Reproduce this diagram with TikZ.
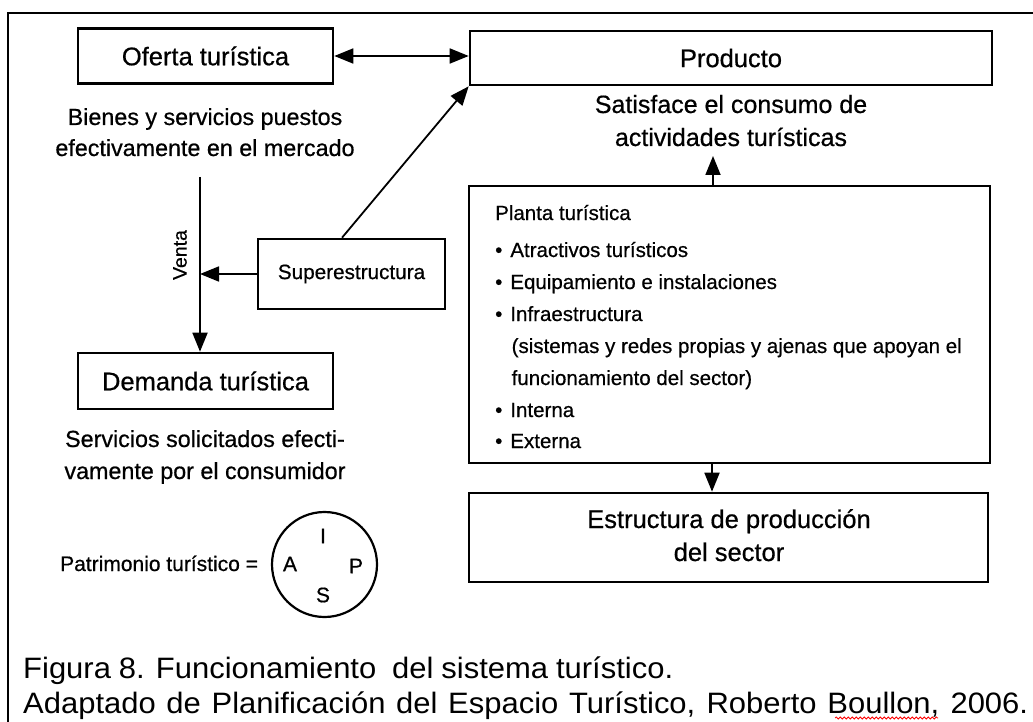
\documentclass[tikz,border=0pt]{standalone}
\usepackage{fontspec}
\setmainfont{Liberation Sans}[FakeBold=0.6]
\newfontfamily\capfont{Liberation Sans}[FakeStretch=1.05]
\usetikzlibrary{arrows.meta,decorations.pathmorphing,calc}
\begin{document}
\begin{tikzpicture}[x=1pt,y=-1pt,
  box/.style={draw, line width=2.6pt, inner sep=0pt},
  conn/.style={line width=1.8pt},
  arr/.style={conn,-{Triangle[length=19pt,width=15pt]}},
  darr/.style={conn,{Triangle[length=19pt,width=15pt]}-{Triangle[length=19pt,width=15pt]}},
  ttl/.style={font=\fontsize{25.5}{30}\selectfont},
  desc/.style={anchor=base, inner sep=0pt, font=\fontsize{23.3}{28}\selectfont},
  descr/.style={anchor=base, inner sep=0pt, font=\fontsize{25}{30}\selectfont},
  item/.style={anchor=base west, inner sep=0pt, font=\fontsize{20.5}{24}\selectfont},
  small/.style={inner sep=0pt, font=\fontsize{21}{25}\selectfont},
  captxt/.style={anchor=base west, inner sep=0pt, font=\capfont\fontsize{29.5}{34}\selectfont},
]
\useasboundingbox (0,0) rectangle (1033,722);
\fill[white] (0,0) rectangle (1033,722);
% frame
\coordinate (fbl) at (8,722);
\coordinate (ftl) at (8,13);
\coordinate (ftr) at (1033,13);
\draw[line width=2pt] (fbl) -- (ftl) -- (ftr);

% boxes
\node[box, ttl, minimum width=255pt, minimum height=55pt] (oferta) at (205.5,56) {Oferta turística};
\node[box, ttl, minimum width=522pt, minimum height=54pt] (producto) at (731,58) {Producto};
\node[box, minimum width=521pt, minimum height=277pt] (planta) at (729.5,324.5) {};
\node[box, minimum width=519pt, minimum height=89pt] (estructura) at (728.5,537.5) {};
\node[box, minimum width=187pt, minimum height=70pt, font=\fontsize{20.7}{25}\selectfont] (supe) at (351.5,274) {Superestructura};
\node[box, ttl, minimum width=255pt, minimum height=56pt] (demanda) at (205.5,381) {Demanda turística};

% descriptive texts
\node[desc] (bien1) at (205,125) {Bienes y servicios puestos};
\node[desc] (bien2) at (205,156) {efectivamente en el mercado};
\node[descr] (sat1) at (731,113) {Satisface el consumo de};
\node[descr] (sat2) at (731,146) {actividades turísticas};
\node[desc] (serv1) at (205,447) {Servicios solicitados efecti-};
\node[desc] (serv2) at (205,479) {vamente por el consumidor};
\node[anchor=base, inner sep=0pt, font=\fontsize{25.5}{30}\selectfont] (est1) at (729,528) {Estructura de producción};
\node[anchor=base, inner sep=0pt, font=\fontsize{25.5}{30}\selectfont] (est2) at (729,561) {del sector};

% planta items
\node[item] (pt) at (495,220) {Planta turística};
\node[item] (i1) at (495,257) {•\hspace{8pt}Atractivos turísticos};
\node[item] (i2) at (495,289) {•\hspace{8pt}Equipamiento e instalaciones};
\node[item] (i3) at (495,321) {•\hspace{8pt}Infraestructura};
\node[item] (i3a) at (511.5,353) {(sistemas y redes propias y ajenas que apoyan el};
\node[item] (i3b) at (511.5,385) {funcionamiento del sector)};
\node[item] (i4) at (495,417) {•\hspace{8pt}Interna};
\node[item] (i5) at (495,448) {•\hspace{8pt}Externa};

% connectors
\draw[darr] (oferta.east) -- (oferta.east -| producto.west);
\coordinate (supetop) at ($(supe.north west)!0.45!(supe.north east)$);
\draw[arr] (supetop) -- (producto.south west);
\coordinate (vtop) at (200,177);
\draw[arr] (vtop) -- (vtop |- demanda.north);
\draw[arr] (supe.west) -- (vtop |- supe.west);
\node[small, rotate=90, font=\fontsize{19.5}{23}\selectfont] (venta) at (180,255) {Venta};
\coordinate (uptip) at (713,156);
\draw[arr] (planta.north -| uptip) -- (uptip);
\coordinate (dnx) at (712,0);
\draw[arr] (planta.south -| dnx) -- (estructura.north -| dnx);

% patrimonio
\node[anchor=base west, inner sep=0pt, font=\fontsize{21}{25}\selectfont] (patr) at (60,571) {Patrimonio turístico =};
\node[draw, circle, line width=2.2pt, minimum size=105pt, inner sep=0pt] (circ) at (324.5,564.5) {};
\node[small] (cI) at (323,536) {I};
\node[small] (cA) at (290,564) {A};
\node[small] (cP) at (356,566) {P};
\node[small] (cS) at (323,595) {S};

% caption
\node[captxt] (cap1) at (23,678) {\makebox[650pt][s]{Figura 8. Funcionamiento\ \ del sistema turístico.}};
\node[captxt] (cap2) at (23,713) {\makebox[1005pt][s]{Adaptado de Planificación del Espacio Turístico, Roberto Boullon, 2006.}};
\coordinate (sq1) at (835,718);
\coordinate (sq2) at (938,718);
\draw[red, line width=0.8pt, decorate, decoration={snake, amplitude=1pt, segment length=4pt}] (sq1) -- (sq2);
\end{tikzpicture}
\end{document}
